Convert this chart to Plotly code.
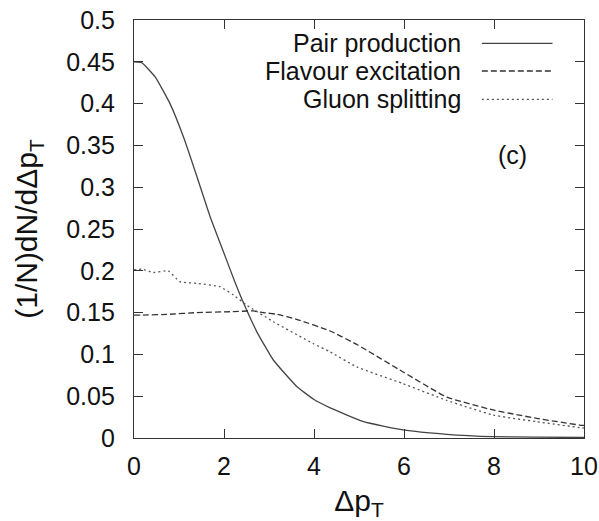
import plotly.graph_objects as go

# Pair production (solid)
pair_x = [0, 0.17, 0.47, 0.8, 1.1, 1.39, 1.69, 2.0, 2.24, 2.43, 2.73, 3.1, 3.61, 4.0, 4.36, 5.1, 5.98, 6.95, 7.98, 8.9, 10.0]
pair_y = [0.450, 0.449, 0.432, 0.400, 0.360, 0.314, 0.265, 0.221, 0.187, 0.162, 0.127, 0.093, 0.062, 0.046, 0.036, 0.0195, 0.0096, 0.0044, 0.0016, 0.0010, 0.0006]

# Flavour excitation (dashed)
flav_x = [0, 0.17, 0.8, 1.39, 2.13, 2.65, 2.87, 3.17, 3.61, 4.36, 4.98, 5.98, 6.95, 7.98, 8.95, 9.9, 10.0]
flav_y = [0.147, 0.147, 0.148, 0.150, 0.151, 0.152, 0.150, 0.148, 0.142, 0.128, 0.111, 0.079, 0.049, 0.0335, 0.0235, 0.0155, 0.015]

# Gluon splitting (dotted)
glu_x = [0, 0.17, 0.43, 0.76, 1.02, 1.39, 1.91, 2.21, 2.5, 3.1, 3.98, 4.36, 4.95, 5.98, 6.95, 7.98, 8.95, 9.9, 10.0]
glu_y = [0.201, 0.202, 0.198, 0.200, 0.187, 0.185, 0.181, 0.171, 0.159, 0.139, 0.113, 0.103, 0.085, 0.065, 0.045, 0.0275, 0.0195, 0.0125, 0.012]

names = ["Pair production", "Flavour excitation", "Gluon splitting"]
xs = [pair_x, flav_x, glu_x]
ys = [pair_y, flav_y, glu_y]
colors = ["#444444", "#333333", "#555555"]
dashes = ["solid", "6px,3px", "2px,3px"]

x_ticks = [0, 2, 4, 6, 8, 10]
y_ticks = [0, 0.05, 0.1, 0.15, 0.2, 0.25, 0.3, 0.35, 0.4, 0.45, 0.5]
y_ticktext = ["0", "0.05", "0.1", "0.15", "0.2", "0.25", "0.3", "0.35", "0.4", "0.45", "0.5"]

FONT = "Liberation Sans, Arial, sans-serif"
FS = 25

fig = go.Figure()
for n, x, y, c, d in zip(names, xs, ys, colors, dashes):
    fig.add_trace(go.Scatter(x=x, y=y, mode="lines", name=n,
                             line=dict(color=c, width=1.3, dash=d, shape="spline", smoothing=0.4),
                             showlegend=False))

# Custom legend: right-aligned text with line sample to the right
leg_y = [0.472, 0.439, 0.405]
for n, yy, c, d in zip(names, leg_y, colors, dashes):
    fig.add_annotation(x=7.31, y=yy, xref="x", yref="y", text=n, showarrow=False,
                       xanchor="right", yanchor="middle", font=dict(size=FS, color="#111111", family=FONT))
    fig.add_shape(type="line", x0=7.73, x1=9.3, y0=yy, y1=yy, xref="x", yref="y",
                  line=dict(color=c, width=1.3, dash=d))

fig.add_annotation(x=8.4, y=0.339, xref="x", yref="y", text="(c)", showarrow=False,
                   font=dict(size=FS, color="#111111", family=FONT))

fig.update_layout(
    width=599, height=521,
    margin=dict(l=134, r=15, t=20, b=83),
    paper_bgcolor="white", plot_bgcolor="white",
    font=dict(family=FONT, size=FS, color="#111111"),
)
fig.update_xaxes(range=[0, 10], tickvals=x_ticks, ticktext=[str(v) for v in x_ticks],
                 ticks="inside", ticklen=9, tickcolor="#333333", mirror="ticks",
                 showline=True, linecolor="#333333", linewidth=1.2, showgrid=False, zeroline=False,
                 title=dict(text="Δp<sub>T</sub>", standoff=16), ticklabelstandoff=6,
                 tickfont=dict(size=FS), automargin=False)
fig.update_yaxes(range=[0, 0.5], tickvals=y_ticks, ticktext=y_ticktext,
                 ticks="inside", ticklen=9, tickcolor="#333333", mirror="ticks",
                 showline=True, linecolor="#333333", linewidth=1.2, showgrid=False, zeroline=False,
                 title=dict(text="(1/N)dN/dΔp<sub>T</sub>", standoff=19), ticklabelstandoff=13,
                 tickfont=dict(size=FS), automargin=False)

fig.write_html("out.html")
